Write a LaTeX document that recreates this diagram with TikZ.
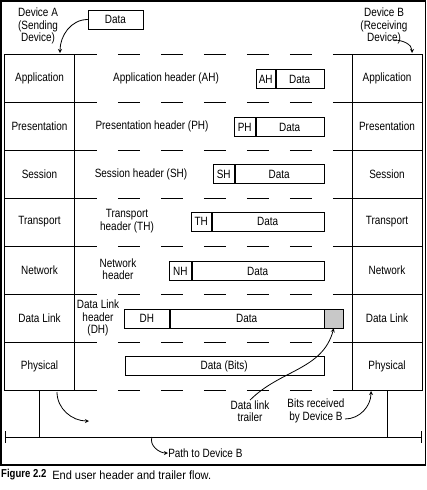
\documentclass[tikz,border=0pt]{standalone}
\usepackage{fontspec}
\setmainfont{Liberation Sans}[FakeStretch=0.83]
\newfontfamily\capfont{Liberation Sans}[FakeStretch=0.92]
\usepackage{xcolor}
\usepackage{tikz}
\usetikzlibrary{shapes.geometric, arrows, positioning}
\definecolor{trailergray}{RGB}{200,200,200}
\tikzstyle{layer} = [rectangle, minimum width=70pt, minimum height=48pt, inner sep=0pt, text centered, draw=black]
\tikzstyle{pkt} = [rectangle, minimum height=19pt, inner sep=0pt, text centered, draw=black, fill=white]
\tikzstyle{lbl} = [align=center, inner sep=0pt]
\tikzstyle{sep} = [dash pattern=on 22pt off 21pt]
\tikzstyle{arrow} = [thick,->,>=stealth]

\begin{document}
\begin{tikzpicture}[x=1pt, y=1pt, node distance=48pt, font=\fontsize{12}{12.5}\selectfont, line width=0.5pt]
\useasboundingbox (0,0) rectangle (427,-490);

% frame
\draw [line width=1.3pt] (1,-1) rectangle (425.5,-465);

\node (devA) [lbl] at (38,-26) {Device A\\(Sending\\Device)};
\node (devB) [lbl] at (384,-26) {Device B\\(Receiving\\Device)};
\node (data) [pkt, minimum width=55pt] at (115.5,-19.5) {Data};

% sending stack
\node (la) [layer] at (39.5,-78) {Application};
\node (lp) [layer, below of=la] {Presentation};
\node (ls) [layer, below of=lp] {Session};
\node (lt) [layer, below of=ls] {Transport};
\node (ln) [layer, below of=lt] {Network};
\node (ld) [layer, below of=ln] {Data Link};
\node (lph) [layer, below of=ld] {Physical};

% receiving stack
\node (ra) [layer] at (387,-78) {Application};
\node (rp) [layer, below of=ra] {Presentation};
\node (rs) [layer, below of=rp] {Session};
\node (rt) [layer, below of=rs] {Transport};
\node (rn) [layer, below of=rt] {Network};
\node (rd) [layer, below of=rn] {Data Link};
\node (rph) [layer, below of=rd] {Physical};

\draw [sep] (la.north east) -- (ra.north west);
\draw [sep] (lp.north east) -- (rp.north west);
\draw [sep] (ls.north east) -- (rs.north west);
\draw [sep] (lt.north east) -- (rt.north west);
\draw [sep] (ln.north east) -- (rn.north west);
\draw [sep] (ld.north east) -- (rd.north west);
\draw [sep] (lph.north east) -- (rph.north west);
\draw [sep] (lph.south east) -- (rph.south west);

% header labels
\node (ahl) [lbl] at (166,-78) {Application header (AH)};
\node (phl) [lbl] at (152,-126) {Presentation header (PH)};
\node (shl) [lbl] at (141,-174) {Session header (SH)};
\node (thl) [lbl] at (127,-221) {Transport\\header (TH)};
\node (nhl) [lbl] at (118,-269) {Network\\header};
\node (dhl) [lbl] at (98,-318) {Data Link\\header\\(DH)};

% packets
\node (ahd) [pkt, minimum width=48pt, anchor=east] at (324,-79) {Data};
\node (ah) [pkt, minimum width=19pt, left=0pt of ahd] {AH};
\node (phd) [pkt, minimum width=68pt, anchor=east] at (324,-127) {Data};
\node (ph) [pkt, minimum width=21pt, left=0pt of phd] {PH};
\node (shd) [pkt, minimum width=89pt, anchor=east] at (324,-174) {Data};
\node (sh) [pkt, minimum width=21pt, left=0pt of shd] {SH};
\node (thd) [pkt, minimum width=112pt, anchor=east] at (324,-221.5) {Data};
\node (th) [pkt, minimum width=20pt, left=0pt of thd] {TH};
\node (nhd) [pkt, minimum width=132pt, anchor=east] at (324,-271) {Data};
\node (nh) [pkt, minimum width=22pt, left=0pt of nhd] {NH};
\node (dhd) [pkt, minimum width=154pt, anchor=east] at (324,-318.5) {Data};
\node (dh) [pkt, minimum width=45pt, left=0pt of dhd] {DH};
\node (dtr) [pkt, minimum width=19pt, fill=trailergray, right=0pt of dhd] {};
\node (bits) [pkt, minimum width=199pt, anchor=east] at (324,-366) {Data (Bits)};

% path to device B
\coordinate (pl) at (5,-437);
\coordinate (pr) at (421,-437);
\draw (pl) -- (pr);
\draw ([yshift=6pt]pl) -- ([yshift=-6pt]pl);
\draw ([yshift=6pt]pr) -- ([yshift=-6pt]pr);
\draw (lph.south) -- (lph.south |- pl);
\draw (rph.south) -- (rph.south |- pr);

\node (dtl) [lbl] at (250,-411) {Data link\\trailer};
\node (rcv) [lbl] at (316,-411) {Bits received\\by Device B};
\node (path) [lbl, anchor=west] at (168,-453) {Path to Device B};

\coordinate (aIn) at (60,-53);
\coordinate (bOut) at (394,-40);
\coordinate (bIn) at (412,-53);
\coordinate (sOut) at (57,-392);
\coordinate (sIn) at (89,-421);
\coordinate (pOut) at (152,-437);
\coordinate (rOut) at (345,-419);
\coordinate (rIn) at (371,-391);

\draw [arrow] (data.west) to[out=180, in=90] (aIn);
\draw [arrow] (bOut) to[out=0, in=90] (bIn);
\draw [arrow] (sOut) to[out=-90, in=180] (sIn);
\draw [arrow] (pOut) to[out=-110, in=180] (path.west);
\draw [arrow] (dtl.north) to[out=45, in=-105] (dtr.south);
\draw [arrow] (rOut) to[out=0, in=-90] (rIn);

% caption
\node (fig) [anchor=west, inner sep=0pt, font=\fontsize{11.5}{12}\selectfont\bfseries] at (1,-475) {Figure 2.2};
\node (cap) [anchor=west, inner sep=0pt, font=\capfont\fontsize{12}{13}\selectfont] at (52,-475) {End user header and trailer flow.};

\end{tikzpicture}
\end{document}
